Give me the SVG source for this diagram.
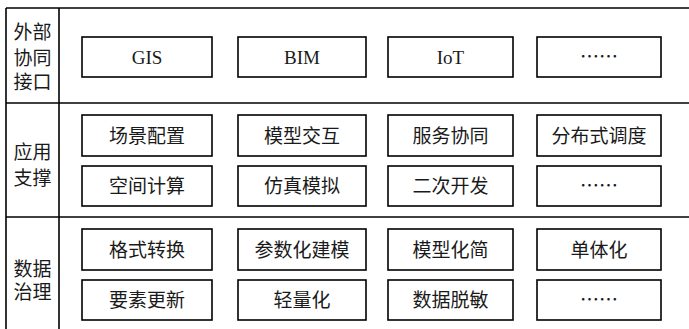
<svg xmlns="http://www.w3.org/2000/svg" width="689" height="329" viewBox="0 0 689 329">
<style>
.frame{stroke:#000;stroke-width:1.6;fill:none}
.box{fill:#fff;stroke:#000;stroke-width:1.6}
.t{font-family:"Liberation Serif","Noto Sans CJK SC",serif;font-size:19px;fill:#1a1a1a;text-anchor:middle}
.d{font-family:"Noto Sans CJK SC",sans-serif;font-size:19px;fill:#1a1a1a;text-anchor:middle}
</style>
<rect width="689" height="329" fill="#fff"/>
<g id="frame">
<line class="frame" x1="6" y1="8" x2="689" y2="8"/>
<line class="frame" x1="6" y1="103" x2="689" y2="103"/>
<line class="frame" x1="6" y1="217" x2="689" y2="217"/>
<line class="frame" x1="6" y1="8" x2="6" y2="329"/>
<line class="frame" x1="59" y1="8" x2="59" y2="329"/>
</g>
<g id="labels">
<text class="t" x="32.5" y="39">外部</text>
<text class="t" x="32.5" y="65">协同</text>
<text class="t" x="32.5" y="89">接口</text>
<text class="t" x="32.5" y="159">应用</text>
<text class="t" x="32.5" y="185">支撑</text>
<text class="t" x="32.5" y="276">数据</text>
<text class="t" x="32.5" y="299">治理</text>
</g>
<g id="n-gis"><rect class="box" x="82" y="37" width="130" height="40"/><text class="t" x="147" y="63.5">GIS</text></g>
<g id="n-bim"><rect class="box" x="238" y="37" width="128" height="40"/><text class="t" x="302" y="63.5">BIM</text></g>
<g id="n-iot"><rect class="box" x="388" y="37" width="125" height="40"/><text class="t" x="450.5" y="64">IoT</text></g>
<g id="n-more1"><rect class="box" x="537" y="37" width="124" height="40"/><text class="d" x="599" y="64">……</text></g>

<g id="n-cjpz"><rect class="box" x="82" y="115" width="130" height="41"/><text class="t" x="147" y="142.5">场景配置</text></g>
<g id="n-mxjh"><rect class="box" x="238" y="115" width="128" height="41"/><text class="t" x="302" y="142.5">模型交互</text></g>
<g id="n-fwxt"><rect class="box" x="388" y="115" width="125" height="41"/><text class="t" x="450.5" y="142.5">服务协同</text></g>
<g id="n-fbsdd"><rect class="box" x="537" y="115" width="124" height="41"/><text class="t" x="599" y="142.5">分布式调度</text></g>
<g id="n-kjjs"><rect class="box" x="82" y="166" width="130" height="40"/><text class="t" x="147" y="193">空间计算</text></g>
<g id="n-fzmn"><rect class="box" x="238" y="166" width="128" height="40"/><text class="t" x="302" y="193">仿真模拟</text></g>
<g id="n-eckf"><rect class="box" x="388" y="166" width="125" height="40"/><text class="t" x="450.5" y="193">二次开发</text></g>
<g id="n-more2"><rect class="box" x="537" y="166" width="124" height="40"/><text class="d" x="599" y="193">……</text></g>

<g id="n-gszh"><rect class="box" x="82" y="229" width="130" height="41"/><text class="t" x="147" y="256.5">格式转换</text></g>
<g id="n-cshjm"><rect class="box" x="238" y="229" width="128" height="41"/><text class="t" x="302" y="256.5">参数化建模</text></g>
<g id="n-mxhj"><rect class="box" x="388" y="229" width="125" height="41"/><text class="t" x="450.5" y="256.5">模型化简</text></g>
<g id="n-dth"><rect class="box" x="537" y="229" width="124" height="41"/><text class="t" x="599" y="256.5">单体化</text></g>
<g id="n-ysgx"><rect class="box" x="82" y="280" width="130" height="40"/><text class="t" x="147" y="307">要素更新</text></g>
<g id="n-qlh"><rect class="box" x="238" y="280" width="128" height="40"/><text class="t" x="302" y="307">轻量化</text></g>
<g id="n-sjtm"><rect class="box" x="388" y="280" width="125" height="40"/><text class="t" x="450.5" y="307">数据脱敏</text></g>
<g id="n-more3"><rect class="box" x="537" y="280" width="124" height="40"/><text class="d" x="599" y="307">……</text></g>
<g id="connectors"/>
</svg>
